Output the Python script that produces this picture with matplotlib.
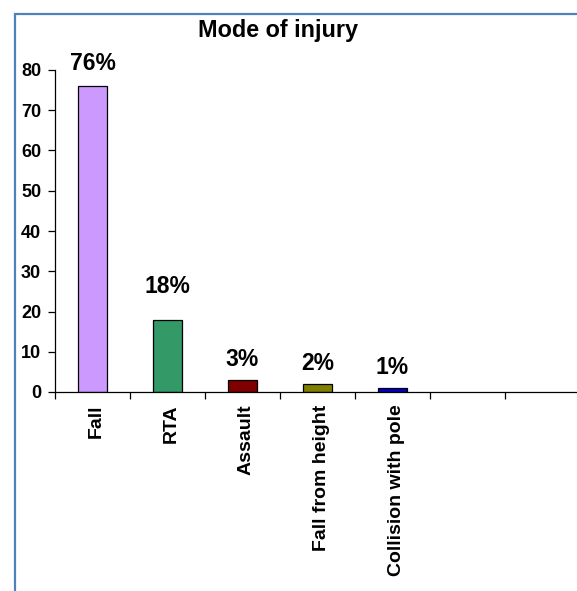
import matplotlib
matplotlib.use("Agg")
import matplotlib.pyplot as plt
import matplotlib.transforms as mtransforms
from matplotlib.patches import Rectangle
from matplotlib.ticker import MultipleLocator, FixedLocator

plt.rcParams['font.family'] = ['Liberation Sans', 'DejaVu Sans']

# data
categories = ["Fall", "RTA", "Assault", "Fall from height", "Collision with pole", "", ""]
values = [76, 18, 3, 2, 1]
bar_colors = ["#CC99FF", "#339966", "#800000", "#808000", "#0000CC"]
label_offsets = [16, 24, 15, 15, 15]  # points from bar top to label centre

W, H = 577, 591
fig = plt.figure(figsize=(W / 100, H / 100), dpi=100)

# outer blue frame (right/bottom run off the picture)
fig.patches.append(Rectangle((14.5 / W, -0.05), 1.2, 1 - 13.5 / H + 0.05,
                             transform=fig.transFigure, fill=False,
                             edgecolor="#4F81BD", linewidth=1.6))

ax = fig.add_axes([55 / W, 1 - 392 / H, 525 / W, (392 - 70) / H])

n = len(categories)
xs = list(range(len(values)))
ax.bar(xs, values, width=0.39, color=bar_colors, edgecolor="black", linewidth=0.9)

for x, v, off in zip(xs, values, label_offsets):
    ax.annotate(f"{v}%", (x, v), xytext=(0, off), textcoords="offset points",
                ha="center", va="center", fontsize=16.5, fontweight="bold")

ax.set_xlim(-0.5, n - 0.5)
ax.set_ylim(0, 80)
ax.yaxis.set_major_locator(MultipleLocator(10))

ax.set_xticks(range(n))
ax.set_xticklabels(categories, rotation=90, fontsize=14, fontweight="bold", va="top")
ax.tick_params(axis="x", which="major", length=0, pad=9)
shift = mtransforms.ScaledTranslation(4 / 100, 0, fig.dpi_scale_trans)
for lbl in ax.get_xticklabels():
    lbl.set_transform(lbl.get_transform() + shift)
ax.xaxis.set_minor_locator(FixedLocator([i - 0.5 for i in range(n + 1)]))
ax.tick_params(axis="x", which="minor", length=5, width=0.9, direction="out")
ax.tick_params(axis="y", length=5, width=0.9, direction="out", labelsize=13, pad=5)
for lbl in ax.get_yticklabels():
    lbl.set_fontweight("bold")

for s in ["top", "right"]:
    ax.spines[s].set_visible(False)
ax.spines["left"].set_linewidth(0.9)
ax.spines["bottom"].set_linewidth(0.9)
ax.patch.set_visible(False)

fig.text(278 / W, 1 - 30 / H, "Mode of injury", ha="center", va="center",
         fontsize=16.8, fontweight="bold")

fig.savefig("out.png", dpi=100)
